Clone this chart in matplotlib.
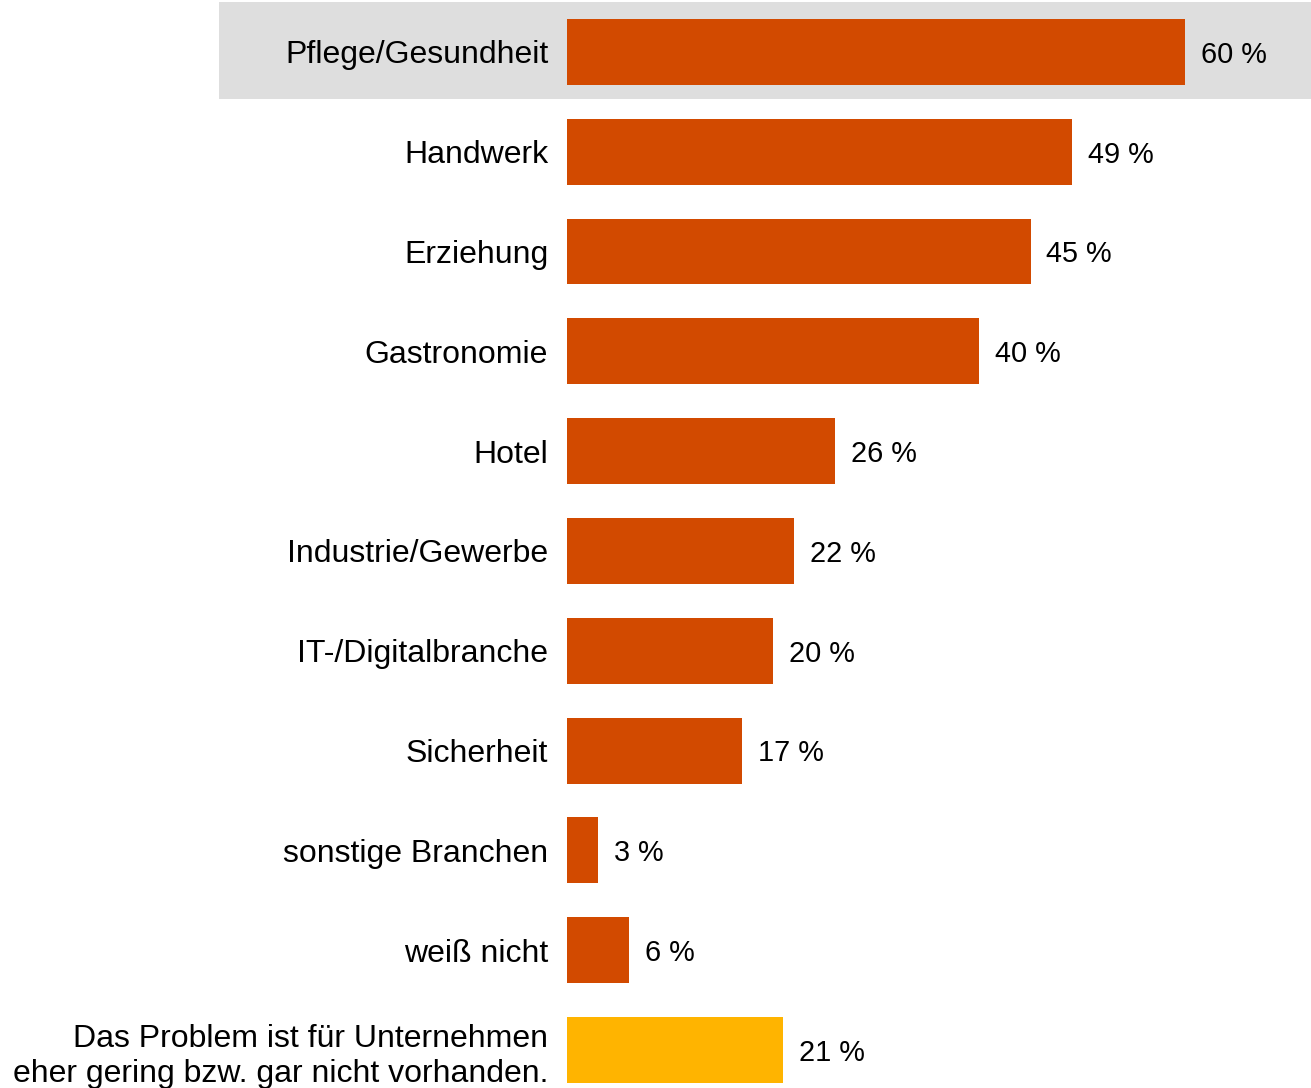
import matplotlib.pyplot as plt

plt.rcParams['font.family'] = ['Liberation Sans', 'DejaVu Sans']

categories = [
    'Pflege/Gesundheit',
    'Handwerk',
    'Erziehung',
    'Gastronomie',
    'Hotel',
    'Industrie/Gewerbe',
    'IT-/Digitalbranche',
    'Sicherheit',
    'sonstige Branchen',
    'weiß nicht',
    'Das Problem ist für Unternehmen\neher gering bzw. gar nicht vorhanden.',
]
values = [60, 49, 45, 40, 26, 22, 20, 17, 3, 6, 21]
bar_colors = ['#D24A00'] * 10 + ['#FFB400']

W, H = 1311, 1088
fig = plt.figure(figsize=(W / 100, H / 100), dpi=100)
ax = fig.add_axes([567 / W, 0, 1 - 567 / W, 1 - 2 / H])

y = list(range(len(categories)))
ax.barh(y, values, height=0.66, color=bar_colors, zorder=2)

ax.set_xlim(0, 744 / 10.3)
ax.set_ylim(10.38, -0.5)

# highlighted first row, runs left under the category label
ax.axhspan(-0.5, 0.475, xmin=(219 - 567) / 744, xmax=1,
           color='#DEDEDE', clip_on=False, zorder=0, lw=0)

ax.set_yticks(y)
ax.set_yticklabels(categories, fontsize=23, linespacing=1.25)
ax.tick_params(axis='y', length=0, pad=13.5, colors='black')
ax.set_xticks([])
for s in ax.spines.values():
    s.set_visible(False)
ax.patch.set_alpha(0)

for yi, v in zip(y, values):
    ax.annotate(f'{v} %', (v, yi), xytext=(11.5, -2), textcoords='offset points',
                ha='left', va='center', fontsize=20.8, color='black')

fig.savefig('out.png', dpi=100)
